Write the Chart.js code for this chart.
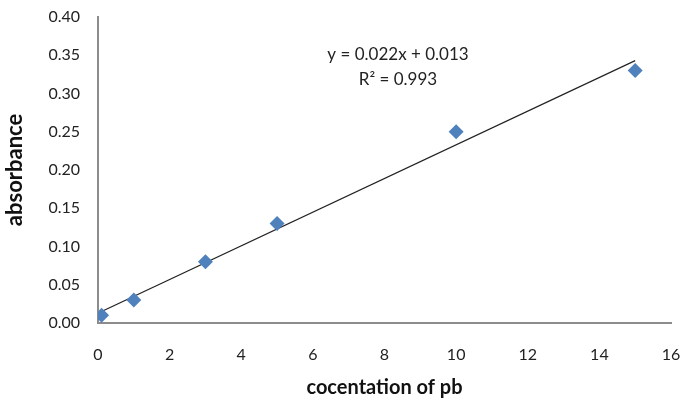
<!DOCTYPE html>
<html>
<head>
<meta charset="utf-8">
<script src="https://cdn.jsdelivr.net/npm/chart.js@4"></script>
<style>
html,body{margin:0;padding:0;background:#fff;}
#wrap{width:681px;height:404px;position:relative;}
</style>
</head>
<body>
<div id="wrap"><canvas id="c" width="681" height="404"></canvas></div>
<script>
// Data
const concentration = [0.1, 1, 3, 5, 10, 15];
const absorbance = [0.01, 0.03, 0.08, 0.13, 0.25, 0.33];
// Trendline endpoints
const trendX = [0.1, 15];
const trendY = [0.015, 0.343];
const equationLines = ["y = 0.022x + 0.013", "R² = 0.993"];
const xTitle = "cocentation of pb";
const yTitle = "absorbance";

const points = concentration.map((x, i) => ({x: x, y: absorbance[i]}));
const trend = trendX.map((x, i) => ({x: x, y: trendY[i]}));

const FONT = "Lato, 'Open Sans', sans-serif";

const eqPlugin = {
  id: 'eq',
  afterDatasetsDraw(chart) {
    const ctx = chart.ctx;
    ctx.save();
    ctx.font = "17px " + FONT;
    ctx.fillStyle = "#222";
    ctx.textAlign = "center";
    ctx.textBaseline = "middle";
    const cx = 398;
    ctx.fillText(equationLines[0], cx, 55);
    ctx.fillText(equationLines[1], cx, 80);
    ctx.restore();
  }
};

new Chart(document.getElementById('c'), {
  type: 'scatter',
  data: {
    datasets: [
      {
        label: 'trend',
        type: 'line',
        data: trend,
        borderColor: '#222',
        borderWidth: 1.2,
        pointRadius: 0,
        fill: false,
        order: 2
      },
      {
        label: 'absorbance',
        data: points,
        pointStyle: 'rectRot',
        pointRadius: 7.5,
        backgroundColor: '#4F81BD',
        borderColor: '#4F81BD',
        borderWidth: 0,
        order: 1
      }
    ]
  },
  options: {
    responsive: false,
    animation: false,
    layout: {padding: {left: 0, right: 10, top: 17, bottom: 0}},
    plugins: {legend: {display: false}, tooltip: {enabled: false}},
    scales: {
      x: {
        type: 'linear',
        min: 0, max: 16,
        ticks: {stepSize: 2, color: '#222', font: {family: FONT, size: 16}, padding: 22},
        grid: {display: false, drawTicks: false},
        border: {color: '#8c8c8c', width: 2},
        title: {display: true, text: xTitle, color: '#111', font: {family: FONT, size: 20, weight: 'bold'}, padding: {top: 0, bottom: 4}},
        afterFit(s) { s.height = 81; s.paddingLeft = 0; s.paddingRight = 0; }
      },
      y: {
        type: 'linear',
        min: 0, max: 0.4,
        ticks: {stepSize: 0.05, color: '#222', font: {family: FONT, size: 16}, padding: 18,
          callback: v => v.toFixed(2)},
        grid: {display: false, drawTicks: false},
        border: {color: '#8c8c8c', width: 2},
        title: {display: true, text: yTitle, color: '#111', font: {family: FONT, size: 22, weight: 'bold'}, padding: {top: 2, bottom: 0}},
        afterFit(s) { s.width = 98; s.paddingTop = 0; s.paddingBottom = 0; }
      }
    }
  },
  plugins: [eqPlugin]
});
</script>
</body>
</html>
